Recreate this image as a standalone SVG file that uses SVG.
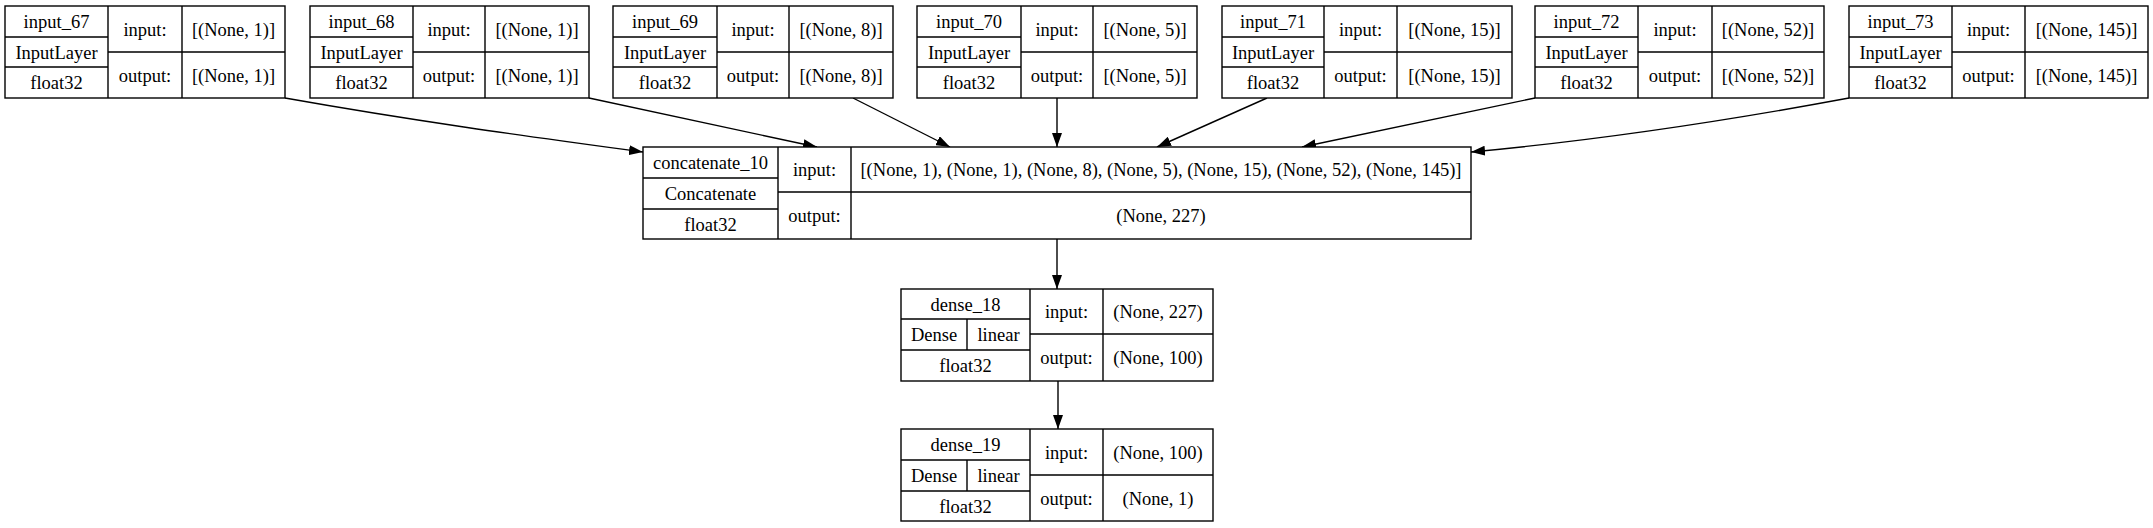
<svg xmlns="http://www.w3.org/2000/svg" width="2153" height="528" viewBox="0 0 2153 528" font-family="'Liberation Serif', 'Times New Roman', Times, serif">
<style>
.b{fill:#fff;stroke:#000;stroke-width:1.4}
.l{stroke:#000;stroke-width:1.4;fill:none}
.t{font-family:'Liberation Serif','Times New Roman',Times,serif;font-size:18.5px;text-anchor:middle;fill:#000}
.e{stroke:#000;stroke-width:1.4;fill:none;marker-end:url(#ah)}
</style>
<defs>
<marker id="ah" markerUnits="userSpaceOnUse" markerWidth="14" markerHeight="10" refX="14" refY="5" orient="auto">
<path d="M0,0 L14,5 L0,10 z" fill="#000"/>
</marker>
</defs>
<rect width="2153" height="528" fill="#fff"/>
<g id="connectors">
<path class="e" d="M285,98 C420,122 540,138 643,152"/>
<path class="e" d="M589,98 L817,147"/>
<path class="e" d="M853,98 L950,147"/>
<path class="e" d="M1057,98 L1057,147"/>
<path class="e" d="M1267,98 L1157,147"/>
<path class="e" d="M1535,98 L1302,147"/>
<path class="e" d="M1849,98 C1720,122 1600,140 1471,152"/>
<path class="e" d="M1057,239 L1057,289"/>
<path class="e" d="M1058,381 L1058,429"/>
</g>
<g id="input_67">
<rect class="b" x="5" y="6" width="280" height="92"/>
<path class="l" d="M108,6V98M182,6V98M5,37H108M5,67H108M108,52H285"/>
<text class="t" x="56.5" y="28">input_67</text><text class="t" x="56.5" y="58.5">InputLayer</text><text class="t" x="56.5" y="89">float32</text>
<text class="t" x="145" y="35.5">input:</text><text class="t" x="145" y="81.5">output:</text>
<text class="t" x="233.5" y="35.5">[(None, 1)]</text><text class="t" x="233.5" y="81.5">[(None, 1)]</text>
</g>
<g id="input_68">
<rect class="b" x="310" y="6" width="279" height="92"/>
<path class="l" d="M413,6V98M485,6V98M310,37H413M310,67H413M413,52H589"/>
<text class="t" x="361.5" y="28">input_68</text><text class="t" x="361.5" y="58.5">InputLayer</text><text class="t" x="361.5" y="89">float32</text>
<text class="t" x="449" y="35.5">input:</text><text class="t" x="449" y="81.5">output:</text>
<text class="t" x="537" y="35.5">[(None, 1)]</text><text class="t" x="537" y="81.5">[(None, 1)]</text>
</g>
<g id="input_69">
<rect class="b" x="613" y="6" width="280" height="92"/>
<path class="l" d="M717,6V98M789,6V98M613,37H717M613,67H717M717,52H893"/>
<text class="t" x="665" y="28">input_69</text><text class="t" x="665" y="58.5">InputLayer</text><text class="t" x="665" y="89">float32</text>
<text class="t" x="753" y="35.5">input:</text><text class="t" x="753" y="81.5">output:</text>
<text class="t" x="841" y="35.5">[(None, 8)]</text><text class="t" x="841" y="81.5">[(None, 8)]</text>
</g>
<g id="input_70">
<rect class="b" x="917" y="6" width="280" height="92"/>
<path class="l" d="M1021,6V98M1093,6V98M917,37H1021M917,67H1021M1021,52H1197"/>
<text class="t" x="969" y="28">input_70</text><text class="t" x="969" y="58.5">InputLayer</text><text class="t" x="969" y="89">float32</text>
<text class="t" x="1057" y="35.5">input:</text><text class="t" x="1057" y="81.5">output:</text>
<text class="t" x="1145" y="35.5">[(None, 5)]</text><text class="t" x="1145" y="81.5">[(None, 5)]</text>
</g>
<g id="input_71">
<rect class="b" x="1222" y="6" width="290" height="92"/>
<path class="l" d="M1324,6V98M1397,6V98M1222,37H1324M1222,67H1324M1324,52H1512"/>
<text class="t" x="1273" y="28">input_71</text><text class="t" x="1273" y="58.5">InputLayer</text><text class="t" x="1273" y="89">float32</text>
<text class="t" x="1360.5" y="35.5">input:</text><text class="t" x="1360.5" y="81.5">output:</text>
<text class="t" x="1454.5" y="35.5">[(None, 15)]</text><text class="t" x="1454.5" y="81.5">[(None, 15)]</text>
</g>
<g id="input_72">
<rect class="b" x="1535" y="6" width="289" height="92"/>
<path class="l" d="M1638,6V98M1712,6V98M1535,37H1638M1535,67H1638M1638,52H1824"/>
<text class="t" x="1586.5" y="28">input_72</text><text class="t" x="1586.5" y="58.5">InputLayer</text><text class="t" x="1586.5" y="89">float32</text>
<text class="t" x="1675" y="35.5">input:</text><text class="t" x="1675" y="81.5">output:</text>
<text class="t" x="1768" y="35.5">[(None, 52)]</text><text class="t" x="1768" y="81.5">[(None, 52)]</text>
</g>
<g id="input_73">
<rect class="b" x="1849" y="6" width="299" height="92"/>
<path class="l" d="M1952,6V98M2025,6V98M1849,37H1952M1849,67H1952M1952,52H2148"/>
<text class="t" x="1900.5" y="28">input_73</text><text class="t" x="1900.5" y="58.5">InputLayer</text><text class="t" x="1900.5" y="89">float32</text>
<text class="t" x="1988.5" y="35.5">input:</text><text class="t" x="1988.5" y="81.5">output:</text>
<text class="t" x="2086.5" y="35.5">[(None, 145)]</text><text class="t" x="2086.5" y="81.5">[(None, 145)]</text>
</g>
<g id="concatenate_10">
<rect class="b" x="643" y="147" width="828" height="92"/>
<path class="l" d="M778,147V239M851,147V239M643,178H778M643,209H778M778,192H1471"/>
<text class="t" x="710.5" y="169">concatenate_10</text><text class="t" x="710.5" y="200">Concatenate</text><text class="t" x="710.5" y="230.5">float32</text>
<text class="t" x="814.5" y="176">input:</text><text class="t" x="814.5" y="222">output:</text>
<text class="t" x="1161" y="176">[(None, 1), (None, 1), (None, 8), (None, 5), (None, 15), (None, 52), (None, 145)]</text>
<text class="t" x="1161" y="222">(None, 227)</text>
</g>
<g id="dense_18">
<rect class="b" x="901" y="289" width="312" height="92"/>
<path class="l" d="M1030,289V381M1103,289V381M901,319H1030M901,350H1030M967,319V350M1030,334H1213"/>
<text class="t" x="965.5" y="310.5">dense_18</text><text class="t" x="934" y="341">Dense</text><text class="t" x="998.5" y="341">linear</text><text class="t" x="965.5" y="372">float32</text>
<text class="t" x="1066.5" y="318">input:</text><text class="t" x="1066.5" y="364">output:</text>
<text class="t" x="1158" y="318">(None, 227)</text><text class="t" x="1158" y="364">(None, 100)</text>
</g>
<g id="dense_19">
<rect class="b" x="901" y="429" width="312" height="92"/>
<path class="l" d="M1030,429V521M1103,429V521M901,460H1030M901,491H1030M967,460V491M1030,475H1213"/>
<text class="t" x="965.5" y="451">dense_19</text><text class="t" x="934" y="482">Dense</text><text class="t" x="998.5" y="482">linear</text><text class="t" x="965.5" y="512.5">float32</text>
<text class="t" x="1066.5" y="458.5">input:</text><text class="t" x="1066.5" y="504.5">output:</text>
<text class="t" x="1158" y="458.5">(None, 100)</text><text class="t" x="1158" y="504.5">(None, 1)</text>
</g>
</svg>
